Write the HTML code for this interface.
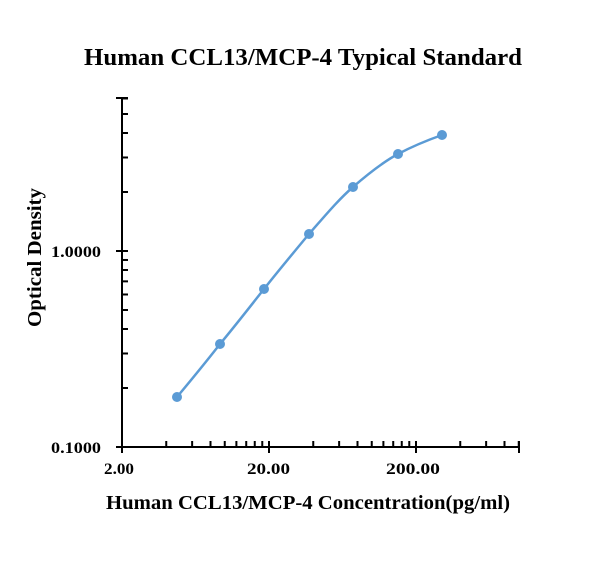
<!DOCTYPE html><html><head><style>body{margin:0;background:#fff}svg text{font-family:"Liberation Serif",serif;font-weight:bold;fill:#000}</style></head><body>
<svg id="s" width="610" height="557" xmlns="http://www.w3.org/2000/svg">
<rect width="610" height="557" fill="#fff"/>
<text x="84" y="65" font-size="24" textLength="438" lengthAdjust="spacingAndGlyphs">Human CCL13/MCP-4 Typical Standard</text>
<text x="106" y="509" font-size="20" textLength="404" lengthAdjust="spacingAndGlyphs">Human CCL13/MCP-4 Concentration(pg/ml)</text>
<text transform="translate(41,327) rotate(-90)" font-size="20" textLength="139" lengthAdjust="spacingAndGlyphs">Optical Density</text>
<text x="51" y="453" font-size="16" textLength="50" lengthAdjust="spacingAndGlyphs">0.1000</text>
<text x="51" y="257" font-size="16" textLength="50" lengthAdjust="spacingAndGlyphs">1.0000</text>
<text x="104" y="474" font-size="16" textLength="30" lengthAdjust="spacingAndGlyphs">2.00</text>
<text x="247" y="474" font-size="16" textLength="43" lengthAdjust="spacingAndGlyphs">20.00</text>
<text x="386" y="474" font-size="16" textLength="54" lengthAdjust="spacingAndGlyphs">200.00</text>
<g id="ax" stroke="#000" stroke-width="2"></g>
<path d="M177,397 C192,379 206,362 220,344 C235,326 249,308 264,289 C279,270 294,252 309,234 C324,217 338,200 353,187 C368,174 383,162 398,154 C413,146 428,140 442,135" fill="none" stroke="#5b9bd5" stroke-width="2.5"/>
<g fill="#5b9bd5"><circle cx="177" cy="397" r="5"/><circle cx="220" cy="344" r="5"/><circle cx="264" cy="289" r="5"/><circle cx="309" cy="234" r="5"/><circle cx="353" cy="187" r="5"/><circle cx="398" cy="154" r="5"/><circle cx="442" cy="135" r="5"/></g>
</svg>
<script>
var g=document.getElementById('ax'),h='';
h+='<line x1="122" y1="447" x2="519" y2="447"/><line x1="122" y1="98" x2="122" y2="448"/>';
var D=147;
for(var d=0;d<3;d++){var x0=122+d*D;h+='<line x1="'+x0+'" y1="441" x2="'+x0+'" y2="453"/>';
for(var k=2;k<=9;k++){var x=x0+Math.log10(k)*D;if(x<=520)h+='<line x1="'+x+'" y1="441" x2="'+x+'" y2="447"/>';}}
h+='<line x1="519" y1="441" x2="519" y2="453"/>';
var Y=196;
for(var d=0;d<2;d++){var y0=447-d*Y;h+='<line x1="116" y1="'+y0+'" x2="128" y2="'+y0+'"/>';
for(var k=2;k<=9;k++){var y=y0-Math.log10(k)*Y;if(y>=97)h+='<line x1="122" y1="'+y+'" x2="128" y2="'+y+'"/>';}}
h+='<line x1="116" y1="98" x2="128" y2="98"/>';
g.innerHTML=h;
</script>
</body></html>
